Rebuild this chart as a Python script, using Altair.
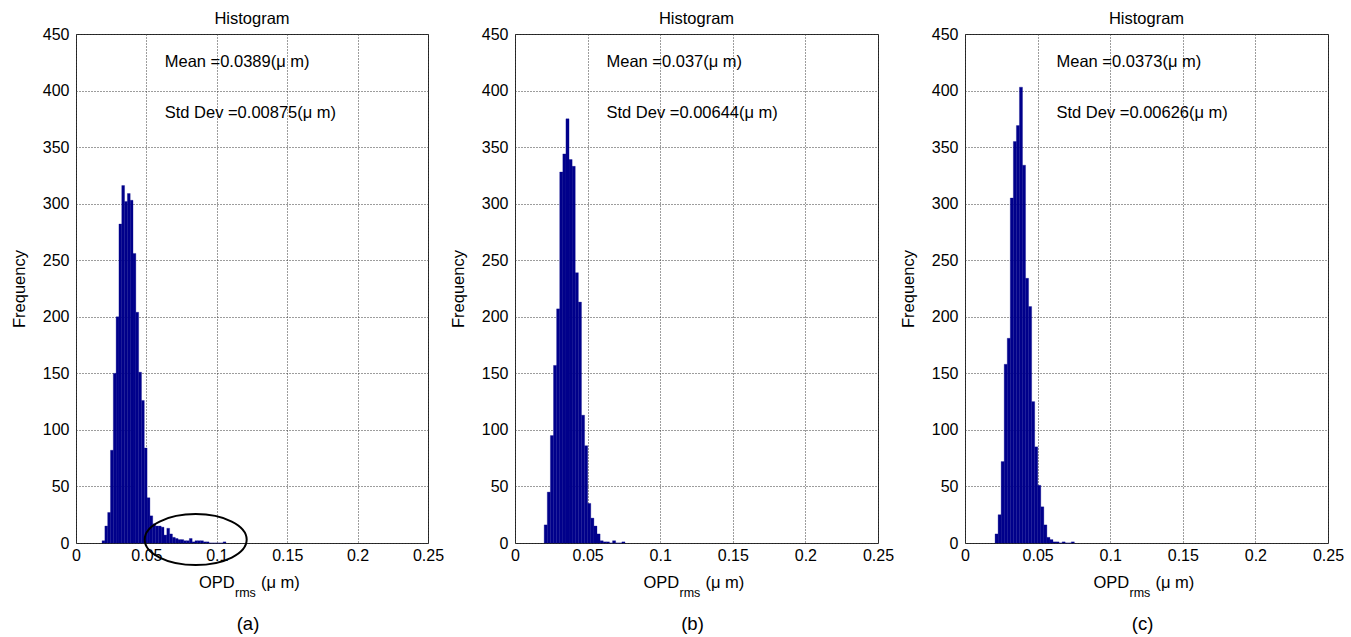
import altair as alt
import pandas as pd

FONT = "Liberation Sans"
BAR_COLOR = "#00008B"

# ---- data ----
PANEL_LABELS = ["(a)", "(b)", "(c)"]
MEANS = ["0.0389", "0.037", "0.0373"]
STDS = ["0.00875", "0.00644", "0.00626"]

BIN_START = [0.0185, 0.0201, 0.0207]
BIN_WIDTH = [0.0020, 0.00214, 0.0021]

COUNTS_A = [2, 15, 27, 82, 150, 200, 282, 316, 302, 309, 303, 256, 204, 151, 126, 84, 40,
            24, 17, 15, 15, 14, 7, 13, 8, 5, 4, 3, 3, 2, 2, 4, 1, 2, 2, 2, 1, 1,
            0, 0, 0, 0, 0, 1]
COUNTS_B = [16, 45, 95, 157, 207, 328, 344, 375, 339, 333, 239, 213, 113, 86, 35, 22, 15,
            8, 2, 1, 1, 0, 2, 0, 0, 1]
COUNTS_C = [8, 25, 72, 158, 181, 305, 355, 369, 403, 334, 234, 209, 125, 85, 51, 32, 16,
            5, 3, 1, 1, 0, 1, 0, 0, 1]
COUNTS = [COUNTS_A, COUNTS_B, COUNTS_C]

X_TICKS = [0, 0.05, 0.1, 0.15, 0.2, 0.25]
Y_TICKS = [0, 50, 100, 150, 200, 250, 300, 350, 400, 450]

# annotation: ellipse drawn around the tail of panel (a) (data coords)
ELLIPSE_X = [0.085]
ELLIPSE_Y = [3]

PANEL_W = [352, 363, 363]
PANEL_H = 509


def panel(i):
    W = PANEL_W[i]
    start, w = BIN_START[i], BIN_WIDTH[i]
    n = COUNTS[i]
    df = pd.DataFrame({
        "x0": [start + k * w for k in range(len(n))],
        "x1": [start + (k + 1) * w for k in range(len(n))],
        "n": n,
        "zero": [0] * len(n),
    })
    xs = alt.Scale(domain=[0, 0.25], nice=False, zero=False)
    ys = alt.Scale(domain=[0, 450], nice=False)
    xaxis = alt.Axis(values=X_TICKS, format="~g", title=None, grid=True,
                     labelPadding=4, labelFlush=False)
    yaxis = alt.Axis(values=Y_TICKS, title="Frequency", grid=True)

    bars = alt.Chart(df).mark_rect(color=BAR_COLOR, stroke=BAR_COLOR, strokeWidth=0.3).encode(
        x=alt.X("x0:Q", scale=xs, axis=xaxis),
        x2="x1:Q",
        y=alt.Y("n:Q", scale=ys, axis=yaxis),
        y2="zero:Q",
    )

    ann = pd.DataFrame({
        "x": [0.063, 0.063],
        "y": [425, 380],
        "t": [f"Mean ={MEANS[i]}(\u03bc m)", f"Std Dev ={STDS[i]}(\u03bc m)"],
    })
    texts = alt.Chart(ann).mark_text(align="left", baseline="middle", font=FONT,
                                     fontSize=16.5, color="black").encode(
        x=alt.X("x:Q", scale=xs), y=alt.Y("y:Q", scale=ys), text="t:N")

    x0 = W / 2 - 53
    t1 = alt.Chart(pd.DataFrame({"t": ["OPD"]})).mark_text(
        align="left", baseline="middle", font=FONT, fontSize=16.5, color="black").encode(
        x=alt.value(x0), y=alt.value(PANEL_H + 40), text="t:N")
    t2 = alt.Chart(pd.DataFrame({"t": ["rms"]})).mark_text(
        align="left", baseline="middle", font=FONT, fontSize=12.5, color="black").encode(
        x=alt.value(x0 + 36), y=alt.value(PANEL_H + 50), text="t:N")
    t3 = alt.Chart(pd.DataFrame({"t": ["(\u03bc m)"]})).mark_text(
        align="left", baseline="middle", font=FONT, fontSize=16.5, color="black").encode(
        x=alt.value(x0 + 62), y=alt.value(PANEL_H + 40), text="t:N")
    lab = alt.Chart(pd.DataFrame({"t": [PANEL_LABELS[i]]})).mark_text(
        align="center", baseline="middle", font=FONT, fontSize=18.5, color="black").encode(
        x=alt.value(W / 2 - 4), y=alt.value(PANEL_H + 81), text="t:N")

    layers = [bars, texts, t1, t2, t3, lab]
    if i == 0:
        ell = alt.Chart(pd.DataFrame({"x": ELLIPSE_X, "y": ELLIPSE_Y})).mark_point(
            shape="M-1,0 A1,0.5 0 1,1 1,0 A1,0.5 0 1,1 -1,0 Z",
            filled=False, stroke="black", strokeWidth=2, size=10404, opacity=1).encode(
            x=alt.X("x:Q", scale=xs), y=alt.Y("y:Q", scale=ys))
        layers.append(ell)

    return alt.layer(*layers).properties(
        width=W, height=PANEL_H,
        title=alt.TitleParams("Histogram", fontSize=16.5, fontWeight="normal",
                              font=FONT, offset=-1, color="black"),
    )


chart = alt.hconcat(panel(0), panel(1), panel(2), spacing=4).properties(
    padding={"left": 10, "top": 10, "right": 0, "bottom": 0},
    background="white",
).configure_view(
    stroke="#222222", strokeWidth=1,
).configure_axis(
    domain=False, ticks=False, labelPadding=7,
    labelFont=FONT, labelFontSize=16, labelColor="black",
    titleFont=FONT, titleFontSize=16.5, titleFontWeight="normal", titleColor="black",
    titlePadding=15,
    gridColor="#3a3a3a", gridDash=[1, 2], gridWidth=1, gridOpacity=1,
)

chart.save("out.html", embed_options={"renderer": "svg", "actions": False})
